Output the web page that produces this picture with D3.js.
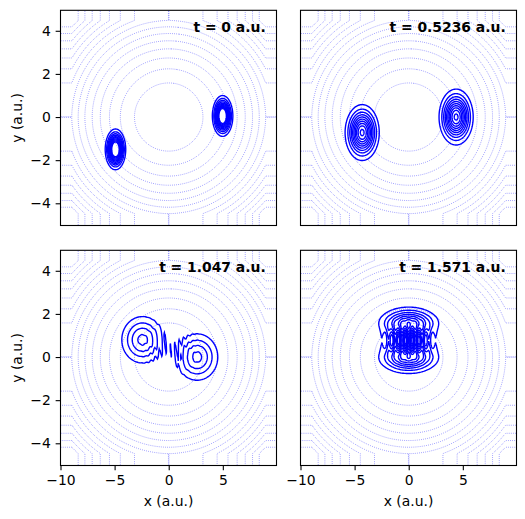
<!DOCTYPE html>
<html>
<head>
<meta charset="utf-8">
<script src="https://cdn.jsdelivr.net/npm/d3@7"></script>
<style>
  body { margin: 0; background: #fff; }
  text { font-family: "DejaVu Sans", sans-serif; }
</style>
</head>
<body>
<div id="chart"></div>
<script>
// snapshot times shown in the corner of each panel
var panelTimes = ["0", "0.5236", "1.047", "1.571"];

// two gaussian packets per panel: A starts at rest at (5,0), B at (-5,-1.5)
var centerX = [[4.98, -4.92], [4.38, -4.3], [2.62, -2.42], [0, 0]];
var centerY = [[0.05, -1.5], [0, -0.72], [0, 0.8], [0.03, 1.52]];
var momentumX = [[0, 0], [-2.5, 2.5], [-4.33, 4.33], [-5, 5]];
var momentumY = [[0, 0], [0, 2.6], [0, 2.6], [0, 0]];
var chirpX = [0, 0.25, 0.6, 0];
var sigmaX = [0.41, 0.73, 1.12, 1.37];
var sigmaY = [0.41, 0.6, 0.63, 0.39];
var peakDensity = [0.286, 0.206, 0.086, 0.16];
var densityLevels = [0.02, 0.04, 0.06, 0.08, 0.10, 0.12, 0.14, 0.16, 0.18, 0.20];

// trap: V = 0.5*wx^2 x^2 + 0.5*wy^2 y^2, each term capped near the box edge
var omega = [1, 2];
var potentialCap = 39.999;
var potentialLevels = [5, 10, 15, 20, 25, 30, 35, 40, 45, 50, 55, 60, 65, 70, 75];

var xTicks = [-10, -5, 0, 5];
var yTicks = [-4, -2, 0, 2, 4];
var xDomain = [-10, 9.96];
var yDomain = [-5.03, 4.95];

//Figure layout
var w = 525, h = 519;
var pw = 216, ph = 215.2;
var colX = [60.5, 300.5];
var rowY = [10.3, 250.3];

var svg = d3.select("#chart").append("svg")
  .attr("width", w)
  .attr("height", h);

var x = d3.scaleLinear().domain(xDomain).range([0, pw]);
var y = d3.scaleLinear().domain(yDomain).range([ph, 0]);

//Sampling grid, a bit larger than the axes so the ring edges fall outside the clip
var gx0 = -10.4, gdx = 0.08, nx = 261;
var gy0 = -5.2, gdy = 0.04, ny = 261;

var toScreen = d3.geoTransform({
  point: function(c, r) {
    this.stream.point(x(gx0 + (c - 0.5) * gdx), y(gy0 + (r - 0.5) * gdy));
  }
});
var path = d3.geoPath(toScreen);

var potential = new Float64Array(nx * ny);
for (var j = 0; j < ny; j++) {
  for (var i = 0; i < nx; i++) {
    var xv = gx0 + i * gdx, yv = gy0 + j * gdy;
    potential[j * nx + i] = Math.min(0.5 * omega[0] * omega[0] * xv * xv, potentialCap) +
      Math.min(0.5 * omega[1] * omega[1] * yv * yv, potentialCap);
  }
}
var potContours = d3.contours().size([nx, ny]).thresholds(potentialLevels)(potential);

function densityGrid(p) {
  var vals = new Float64Array(nx * ny);
  for (var j = 0; j < ny; j++) {
    for (var i = 0; i < nx; i++) {
      var xv = gx0 + i * gdx, yv = gy0 + j * gdy;
      var re = 0, im = 0;
      for (var k = 0; k < 2; k++) {
        var dxp = xv - centerX[p][k], dyp = yv - centerY[p][k];
        var amp = Math.sqrt(peakDensity[p]) *
          Math.exp(-dxp * dxp / (4 * sigmaX[p] * sigmaX[p]) - dyp * dyp / (4 * sigmaY[p] * sigmaY[p]));
        var ph0 = momentumX[p][k] * dxp + momentumY[p][k] * dyp + chirpX[p] * dxp * dxp;
        re += amp * Math.cos(ph0);
        im += amp * Math.sin(ph0);
      }
      vals[j * nx + i] = re * re + im * im;
    }
  }
  return vals;
}

panelTimes.forEach(function(t, p) {
  var col = p % 2, row = Math.floor(p / 2);
  var g = svg.append("g")
    .attr("transform", "translate(" + colX[col] + "," + rowY[row] + ")");

  g.append("clipPath").attr("id", "clip" + p)
    .append("rect").attr("width", pw).attr("height", ph);

  var plot = g.append("g").attr("clip-path", "url(#clip" + p + ")");

  //Trap contours, dotted
  plot.selectAll(".pot")
    .data(potContours)
    .enter()
    .append("path")
    .attr("class", "pot")
    .attr("d", path)
    .attr("fill", "none")
    .attr("stroke", "blue")
    .attr("stroke-opacity", 0.75)
    .attr("stroke-width", 0.6)
    .attr("stroke-dasharray", "0.8,1.3");

  //Probability density contours
  var dens = d3.contours().size([nx, ny]).thresholds(densityLevels)(densityGrid(p));
  plot.selectAll(".dens")
    .data(dens)
    .enter()
    .append("path")
    .attr("class", "dens")
    .attr("d", path)
    .attr("fill", "none")
    .attr("stroke", "blue")
    .attr("stroke-width", 1.4);

  //Frame
  g.append("rect")
    .attr("width", pw)
    .attr("height", ph)
    .attr("fill", "none")
    .attr("stroke", "black")
    .attr("stroke-width", 1.1);

  g.append("text")
    .attr("x", 0.95 * pw)
    .attr("y", 0.1 * ph)
    .attr("text-anchor", "end")
    .attr("font-size", "13.9px")
    .attr("font-weight", "bold")
    .text("t = " + t + " a.u.");

  if (col === 0) {
    var ya = g.append("g")
      .call(d3.axisLeft(y).tickValues(yTicks).tickSize(4.86).tickPadding(4.86));
    ya.select(".domain").remove();
    ya.selectAll("line").attr("stroke", "black").attr("stroke-width", 1.1);
    ya.selectAll("text").attr("font-size", "13.9px").attr("font-family", "DejaVu Sans").attr("fill", "black");
    g.append("text")
      .attr("transform", "translate(" + (-39) + "," + (ph / 2) + ") rotate(-90)")
      .attr("text-anchor", "middle")
      .attr("font-size", "13.9px")
      .text("y (a.u.)");
  }
  if (row === 1) {
    var xa = g.append("g")
      .attr("transform", "translate(0," + ph + ")")
      .call(d3.axisBottom(x).tickValues(xTicks).tickSize(4.86).tickPadding(4.86));
    xa.select(".domain").remove();
    xa.selectAll("line").attr("stroke", "black").attr("stroke-width", 1.1);
    xa.selectAll("text").attr("font-size", "13.9px").attr("font-family", "DejaVu Sans").attr("fill", "black");
    g.append("text")
      .attr("x", pw / 2)
      .attr("y", ph + 40.5)
      .attr("text-anchor", "middle")
      .attr("font-size", "13.9px")
      .text("x (a.u.)");
  }
});
</script>
</body>
</html>
